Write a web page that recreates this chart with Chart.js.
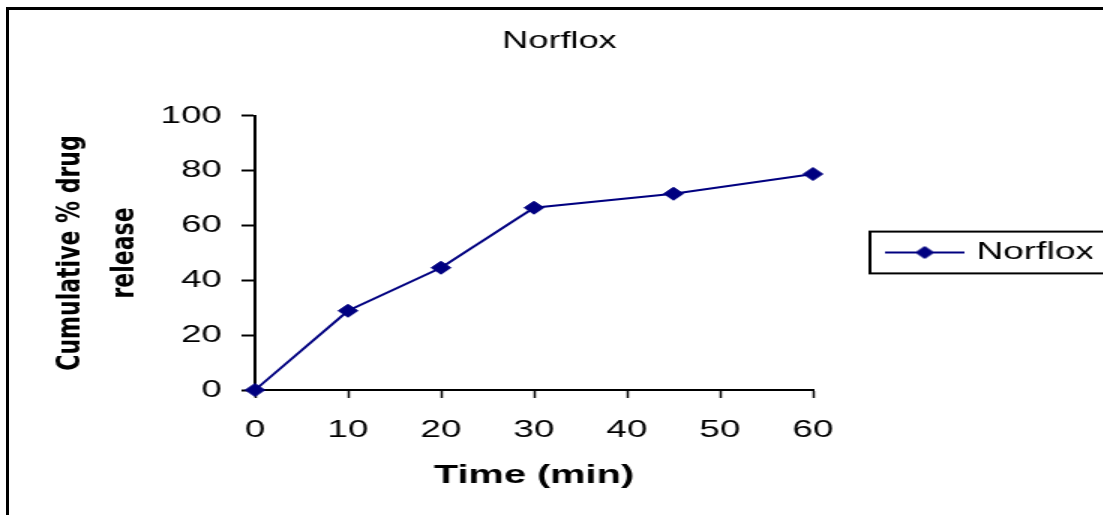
<!DOCTYPE html>
<html>
<head>
<meta charset="utf-8">
<script src="https://cdn.jsdelivr.net/npm/chart.js@4/dist/chart.umd.min.js"></script>
<style>
  html, body { margin: 0; padding: 0; background: #fff; overflow: hidden; width: 1103px; height: 515px; }
  #frame { position: absolute; left: 6px; top: 7px; width: 1200px; height: 600px; border: 3px solid #000; box-sizing: border-box; }
  #wrap { position: absolute; left: 0; top: 0; width: 735px; height: 515px; transform: scaleX(1.5); transform-origin: 0 0; }
</style>
</head>
<body>
<div id="frame"></div>
<div id="wrap"><canvas id="c"></canvas></div>
<script>
// Release profile of Norflox
const timeMin = [0, 10, 20, 30, 45, 60];
const releasePct = [0, 28.9, 44.6, 66.5, 71.6, 78.8];
const seriesName = 'Norflox';
const chartTitle = 'Norflox';
const xTitle = 'Time (min)';
const yTitle = ['Cumulative % drug', 'release'];
const xTicks = [0, 10, 20, 30, 40, 50, 60];
const yTicks = [0, 20, 40, 60, 80, 100];

const NAVY = '#000080';
const SANS = '"Liberation Sans", Arial, sans-serif';

// Legend glyph: short line with a diamond marker in the middle
const legendGlyph = document.createElement('canvas');
legendGlyph.width = 53;
legendGlyph.height = 14;
(function () {
  const g = legendGlyph.getContext('2d');
  g.strokeStyle = NAVY;
  g.lineWidth = 2;
  g.beginPath();
  g.moveTo(0, 7);
  g.lineTo(53, 7);
  g.stroke();
  g.fillStyle = NAVY;
  g.lineWidth = 1;
  if (Chart.helpers && Chart.helpers.drawPoint) {
    Chart.helpers.drawPoint(g, { pointStyle: 'rectRot', radius: 6, borderWidth: 1, rotation: 0 }, 26.5, 7);
  } else {
    g.beginPath();
    g.moveTo(20.5, 7); g.lineTo(26.5, 1); g.lineTo(32.5, 7); g.lineTo(26.5, 13);
    g.closePath(); g.fill(); g.stroke();
  }
})();

// Box around the legend entry
const legendFrame = {
  id: 'legendFrame',
  afterDraw(chart) {
    const lg = chart.legend;
    if (!lg || !lg.legendHitBoxes || !lg.legendHitBoxes.length) return;
    const hb = lg.legendHitBoxes[0];
    const ctx = chart.ctx;
    ctx.save();
    ctx.strokeStyle = '#000';
    ctx.lineWidth = 2;
    ctx.strokeRect(hb.left - 14.5, hb.top - 8.5, hb.width + 22.8, hb.height + 17);
    ctx.restore();
  }
};

new Chart(document.getElementById('c'), {
  type: 'line',
  data: {
    datasets: [{
      label: seriesName,
      data: timeMin.map((t, i) => ({ x: t, y: releasePct[i] })),
      borderColor: NAVY,
      backgroundColor: NAVY,
      borderWidth: 2,
      pointStyle: 'rectRot',
      pointRadius: 6.5,
      pointHoverRadius: 6.5,
      pointBorderWidth: 1,
      pointBackgroundColor: NAVY,
      pointBorderColor: NAVY,
      tension: 0,
      fill: false,
      clip: false
    }]
  },
  options: {
    responsive: true,
    maintainAspectRatio: false,
    animation: false,
    events: [],
    layout: { padding: { left: 17.8, right: 6.8, top: 0, bottom: 10 } },
    plugins: {
      title: {
        display: true,
        text: chartTitle,
        color: '#000',
        font: { family: SANS, size: 24.1, weight: 'normal', lineHeight: 1.2 },
        padding: { top: 27, bottom: 60 }
      },
      legend: {
        position: 'right',
        align: 'center',
        maxWidth: 186.2,
        labels: {
          usePointStyle: true,
          pointStyle: legendGlyph,
          pointStyleWidth: 44,
          padding: 52.5,
          color: '#000',
          font: { family: SANS, size: 24.8, weight: 'normal' }
        }
      },
      tooltip: { enabled: false }
    },
    scales: {
      x: {
        type: 'linear',
        min: xTicks[0],
        max: xTicks[xTicks.length - 1],
        afterBuildTicks: s => { s.ticks = xTicks.map(v => ({ value: v })); },
        ticks: {
          color: '#000',
          font: { family: SANS, size: 24.5 },
          padding: 18,
          maxRotation: 0,
          autoSkip: false
        },
        grid: {
          display: true,
          drawOnChartArea: false,
          drawTicks: true,
          tickLength: 8,
          tickWidth: 1.5,
          tickColor: '#000'
        },
        border: { display: true, color: '#000', width: 2 },
        title: {
          display: true,
          text: xTitle,
          color: '#000',
          font: { family: SANS, size: 26.5, weight: 'bold', lineHeight: 1.2 },
          padding: { top: 0, bottom: 13 }
        },
        afterFit: s => { s.height = 115; }
      },
      y: {
        type: 'linear',
        min: yTicks[0],
        max: yTicks[yTicks.length - 1],
        afterBuildTicks: s => { s.ticks = yTicks.map(v => ({ value: v })); },
        ticks: {
          color: '#000',
          font: { family: SANS, size: 24.5 },
          padding: 13,
          autoSkip: false
        },
        grid: {
          display: true,
          drawOnChartArea: false,
          drawTicks: true,
          tickLength: 9,
          tickWidth: 2,
          tickColor: '#000'
        },
        border: { display: true, color: '#000', width: 2 },
        title: {
          display: true,
          text: yTitle,
          color: '#000',
          font: { family: '"DejaVu Sans", sans-serif', size: 22, weight: 'bold', lineHeight: 1.668 },
          padding: { top: 10.85, bottom: 4 }
        },
        afterFit: s => { s.width = 152.2; }
      }
    }
  },
  plugins: [legendFrame]
});
</script>
</body>
</html>
